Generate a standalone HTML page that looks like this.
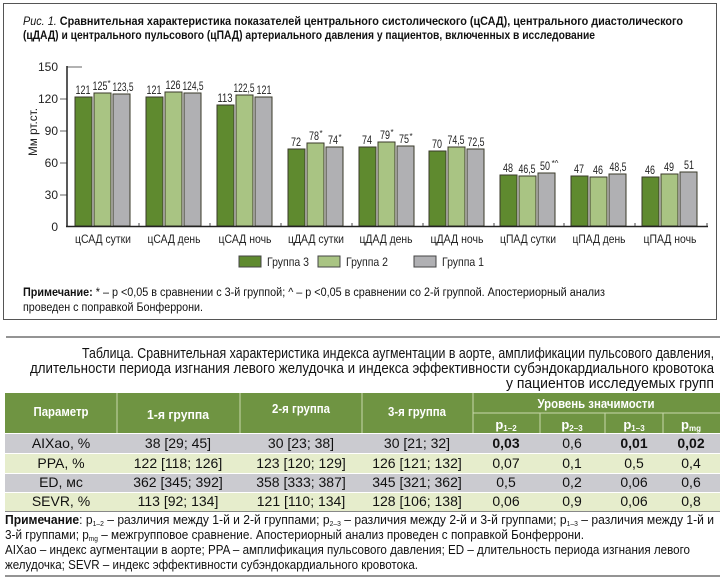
<!DOCTYPE html>
<html><head><meta charset="utf-8"><style>
html,body{margin:0;padding:0;background:#fff;}
svg{display:block;font-family:"Liberation Sans Narrow","Liberation Sans",sans-serif;}
</style></head><body>
<svg width="720" height="577" viewBox="0 0 720 577" xmlns="http://www.w3.org/2000/svg">
<rect x="3.5" y="3.5" width="713" height="316" fill="#fff" stroke="#555" stroke-width="1"/>
<text x="23" y="25" font-size="12" fill="#111" textLength="660" lengthAdjust="spacingAndGlyphs"><tspan font-style="italic">Рис. 1.</tspan><tspan font-weight="bold"> Сравнительная характеристика показателей центрального систолического (цСАД), центрального диастолического</tspan></text>
<text x="23" y="39" font-size="12" fill="#111" font-weight="bold" textLength="572" lengthAdjust="spacingAndGlyphs">(цДАД) и центрального пульсового (цПАД) артериального давления у пациентов, включенных в исследование</text>

<g font-size="12" fill="#222" text-anchor="end">
<text x="58" y="71">150</text><text x="58" y="103">120</text><text x="58" y="135">90</text><text x="58" y="167">60</text><text x="58" y="199">30</text><text x="58" y="231">0</text>
</g>
<g stroke="#666" stroke-width="1">
<line x1="60" y1="99" x2="67" y2="99"/><line x1="60" y1="131" x2="67" y2="131"/><line x1="60" y1="163" x2="67" y2="163"/><line x1="60" y1="195" x2="67" y2="195"/><line x1="67" y1="67" x2="82" y2="67"/>
</g>
<text transform="translate(37,132) rotate(-90)" font-size="12" fill="#222" text-anchor="middle" textLength="48" lengthAdjust="spacingAndGlyphs">Мм рт.ст.</text>

<g stroke="#3a3a2a" stroke-width="1">
<rect x="75" y="97" width="17" height="129" fill="#5f8a2f"/><rect x="94" y="93" width="17" height="133" fill="#a9c483"/><rect x="113" y="94" width="17" height="132" fill="#b0b0b3"/>
<rect x="146" y="97" width="17" height="129" fill="#5f8a2f"/><rect x="165" y="92" width="17" height="134" fill="#a9c483"/><rect x="184" y="93" width="17" height="133" fill="#b0b0b3"/>
<rect x="217" y="105" width="17" height="121" fill="#5f8a2f"/><rect x="236" y="95" width="17" height="131" fill="#a9c483"/><rect x="255" y="97" width="17" height="129" fill="#b0b0b3"/>
<rect x="288" y="149" width="17" height="77" fill="#5f8a2f"/><rect x="307" y="143" width="17" height="83" fill="#a9c483"/><rect x="326" y="147" width="17" height="79" fill="#b0b0b3"/>
<rect x="359" y="147" width="17" height="79" fill="#5f8a2f"/><rect x="378" y="142" width="17" height="84" fill="#a9c483"/><rect x="397" y="146" width="17" height="80" fill="#b0b0b3"/>
<rect x="429" y="151" width="17" height="75" fill="#5f8a2f"/><rect x="448" y="147" width="17" height="79" fill="#a9c483"/><rect x="467" y="149" width="17" height="77" fill="#b0b0b3"/>
<rect x="500" y="175" width="17" height="51" fill="#5f8a2f"/><rect x="519" y="176" width="17" height="50" fill="#a9c483"/><rect x="538" y="173" width="17" height="53" fill="#b0b0b3"/>
<rect x="571" y="176" width="17" height="50" fill="#5f8a2f"/><rect x="590" y="177" width="17" height="49" fill="#a9c483"/><rect x="609" y="174" width="17" height="52" fill="#b0b0b3"/>
<rect x="642" y="177" width="17" height="49" fill="#5f8a2f"/><rect x="661" y="174" width="17" height="52" fill="#a9c483"/><rect x="680" y="172" width="17" height="54" fill="#b0b0b3"/>
</g>
<line x1="67" y1="66" x2="67" y2="227" stroke="#222" stroke-width="1.5"/>
<line x1="66" y1="226.5" x2="708" y2="226.5" stroke="#222" stroke-width="1.5"/>
<g stroke="#444" stroke-width="1">
<line x1="139" y1="223" x2="139" y2="226"/><line x1="210" y1="223" x2="210" y2="226"/><line x1="281" y1="223" x2="281" y2="226"/><line x1="352" y1="223" x2="352" y2="226"/><line x1="423" y1="223" x2="423" y2="226"/><line x1="494" y1="223" x2="494" y2="226"/><line x1="564" y1="223" x2="564" y2="226"/><line x1="635" y1="223" x2="635" y2="226"/><line x1="707" y1="223" x2="707" y2="226"/>
</g>

<g font-size="12" fill="#222" text-anchor="middle" lengthAdjust="spacingAndGlyphs">
<text x="103" y="243" textLength="56" lengthAdjust="spacingAndGlyphs">цСАД сутки</text><text x="174" y="243" textLength="53" lengthAdjust="spacingAndGlyphs">цСАД день</text><text x="245" y="243" textLength="53" lengthAdjust="spacingAndGlyphs">цСАД ночь</text><text x="316" y="243" textLength="56" lengthAdjust="spacingAndGlyphs">цДАД сутки</text><text x="386" y="243" textLength="53" lengthAdjust="spacingAndGlyphs">цДАД день</text><text x="457" y="243" textLength="53" lengthAdjust="spacingAndGlyphs">цДАД ночь</text><text x="528" y="243" textLength="56" lengthAdjust="spacingAndGlyphs">цПАД сутки</text><text x="599" y="243" textLength="53" lengthAdjust="spacingAndGlyphs">цПАД день</text><text x="670" y="243" textLength="53" lengthAdjust="spacingAndGlyphs">цПАД ночь</text>
</g>
<g stroke-width="1" stroke="#444">
<rect x="239" y="256" width="22" height="11" fill="#5f8a2f"/>
<rect x="318" y="256" width="22" height="11" fill="#a9c483"/>
<rect x="414" y="256" width="22" height="11" fill="#b0b0b3"/>
</g>
<g font-size="12" fill="#222"><text x="267" y="266" textLength="42" lengthAdjust="spacingAndGlyphs">Группа 3</text><text x="346" y="266" textLength="42" lengthAdjust="spacingAndGlyphs">Группа 2</text><text x="442" y="266" textLength="42" lengthAdjust="spacingAndGlyphs">Группа 1</text></g>

<text x="23" y="296" font-size="11.5" fill="#111" textLength="582" lengthAdjust="spacingAndGlyphs"><tspan font-weight="bold">Примечание:</tspan> * – p &lt;0,05 в сравнении с 3-й группой; ^ – p &lt;0,05 в сравнении со 2-й группой. Апостериорный анализ</text>
<text x="23" y="311" font-size="11.5" fill="#111" textLength="180" lengthAdjust="spacingAndGlyphs">проведен с поправкой Бонферрони.</text>

<line x1="6" y1="337" x2="720" y2="337" stroke="#555" stroke-width="1.2"/>
<g font-size="15" fill="#111" text-anchor="end">
<text x="714" y="358" textLength="632" lengthAdjust="spacingAndGlyphs">Таблица. Сравнительная характеристика индекса аугментации в аорте, амплификации пульсового давления,</text>
<text x="714" y="373" textLength="684" lengthAdjust="spacingAndGlyphs">длительности периода изгнания левого желудочка и индекса эффективности субэндокардиального кровотока</text>
<text x="714" y="388" textLength="208" lengthAdjust="spacingAndGlyphs">у пациентов исследуемых групп</text>
</g>

<rect x="5" y="393" width="715" height="40" fill="#6f9442"/>
<g stroke="#c9d8ac" stroke-width="1">
<line x1="117" y1="393" x2="117" y2="433"/><line x1="240" y1="393" x2="240" y2="433"/><line x1="362" y1="393" x2="362" y2="433"/><line x1="473" y1="393" x2="473" y2="433"/>
<line x1="473" y1="413" x2="720" y2="413"/>
<line x1="540" y1="413" x2="540" y2="433"/><line x1="605" y1="413" x2="605" y2="433"/><line x1="663" y1="413" x2="663" y2="433"/>
</g>
<g font-size="13" fill="#fff" font-weight="bold" text-anchor="middle">
<text x="61" y="416" textLength="55" lengthAdjust="spacingAndGlyphs">Параметр</text><text x="178" y="419" textLength="62" lengthAdjust="spacingAndGlyphs">1-я  группа</text><text x="301" y="413" textLength="58" lengthAdjust="spacingAndGlyphs">2-я группа</text><text x="417" y="416" textLength="58" lengthAdjust="spacingAndGlyphs">3-я группа</text>
<text x="596" y="408" textLength="117" lengthAdjust="spacingAndGlyphs">Уровень значимости</text>
<text x="506" y="429">p<tspan font-size="8" dy="2">1–2</tspan></text>
<text x="572" y="429">p<tspan font-size="8" dy="2">2–3</tspan></text>
<text x="634" y="429">p<tspan font-size="8" dy="2">1–3</tspan></text>
<text x="691" y="429">p<tspan font-size="8" dy="2">mg</tspan></text>
</g>
<rect x="5" y="434" width="715" height="19" fill="#cbcbd0"/>
<rect x="5" y="454" width="715" height="19" fill="#e6edcc"/>
<rect x="5" y="474" width="715" height="18" fill="#cbcbd0"/>
<rect x="5" y="493" width="715" height="18" fill="#e6edcc"/>
<line x1="5" y1="511.5" x2="720" y2="511.5" stroke="#888" stroke-width="1"/>
<g font-size="14" fill="#111" text-anchor="middle">
<text x="61" y="448">AIXao, %</text><text x="178" y="448">38 [29; 45]</text><text x="301" y="448">30 [23; 38]</text><text x="417" y="448">30 [21; 32]</text>
<text x="506" y="448" font-weight="bold">0,03</text><text x="572" y="448">0,6</text><text x="634" y="448" font-weight="bold">0,01</text><text x="691" y="448" font-weight="bold">0,02</text>
<text x="61" y="468">PPA, %</text><text x="178" y="468">122 [118; 126]</text><text x="301" y="468">123 [120; 129]</text><text x="417" y="468">126 [121; 132]</text>
<text x="506" y="468">0,07</text><text x="572" y="468">0,1</text><text x="634" y="468">0,5</text><text x="691" y="468">0,4</text>
<text x="61" y="487">ED, мс</text><text x="178" y="487">362 [345; 392]</text><text x="301" y="487">358 [333; 387]</text><text x="417" y="487">345 [321; 362]</text>
<text x="506" y="487">0,5</text><text x="572" y="487">0,2</text><text x="634" y="487">0,06</text><text x="691" y="487">0,6</text>
<text x="61" y="506">SEVR, %</text><text x="178" y="506">113 [92; 134]</text><text x="301" y="506">121 [110; 134]</text><text x="417" y="506">128 [106; 138]</text>
<text x="506" y="506">0,06</text><text x="572" y="506">0,9</text><text x="634" y="506">0,06</text><text x="691" y="506">0,8</text>
</g>
<g font-size="12.5" fill="#111">
<text x="5" y="524" textLength="709" lengthAdjust="spacingAndGlyphs"><tspan font-weight="bold">Примечание</tspan>: p<tspan font-size="7" dy="2">1–2</tspan><tspan dy="-2"> – различия между 1-й и 2-й группами; p</tspan><tspan font-size="7" dy="2">2–3</tspan><tspan dy="-2"> – различия между 2-й и 3-й группами; p</tspan><tspan font-size="7" dy="2">1–3</tspan><tspan dy="-2"> – различия между 1-й и</tspan></text>
<text x="5" y="539" textLength="579" lengthAdjust="spacingAndGlyphs">3-й группами; p<tspan font-size="7" dy="2">mg</tspan><tspan dy="-2"> – межгрупповое сравнение. Апостериорный анализ проведен с поправкой Бонферрони.</tspan></text>
<text x="5" y="554" textLength="685" lengthAdjust="spacingAndGlyphs">AIXao – индекс аугментации в аорте; PPA – амплификация пульсового давления; ED – длительность периода изгнания левого</text>
<text x="5" y="569" textLength="413" lengthAdjust="spacingAndGlyphs">желудочка; SEVR – индекс эффективности субэндокардиального кровотока.</text>
</g>
<line x1="5" y1="576" x2="720" y2="576" stroke="#555" stroke-width="1.2"/>

<g font-size="12" fill="#222" text-anchor="middle">
<text x="83" y="94" textLength="15" lengthAdjust="spacingAndGlyphs">121</text><text x="100" y="90" textLength="15" lengthAdjust="spacingAndGlyphs">125</text><text x="109" y="86" font-size="8">*</text><text x="123" y="91" textLength="21" lengthAdjust="spacingAndGlyphs">123,5</text>
<text x="154" y="94" textLength="15" lengthAdjust="spacingAndGlyphs">121</text><text x="173" y="89" textLength="15" lengthAdjust="spacingAndGlyphs">126</text><text x="193" y="90" textLength="21" lengthAdjust="spacingAndGlyphs">124,5</text>
<text x="225" y="102" textLength="15" lengthAdjust="spacingAndGlyphs">113</text><text x="244" y="92" textLength="21" lengthAdjust="spacingAndGlyphs">122,5</text><text x="264" y="94" textLength="15" lengthAdjust="spacingAndGlyphs">121</text>
<text x="296" y="146" textLength="10" lengthAdjust="spacingAndGlyphs">72</text><text x="314" y="140" textLength="10" lengthAdjust="spacingAndGlyphs">78</text><text x="321" y="136" font-size="8">*</text><text x="333" y="144" textLength="10" lengthAdjust="spacingAndGlyphs">74</text><text x="340" y="140" font-size="8">*</text>
<text x="367" y="144" textLength="10" lengthAdjust="spacingAndGlyphs">74</text><text x="385" y="139" textLength="10" lengthAdjust="spacingAndGlyphs">79</text><text x="392" y="135" font-size="8">*</text><text x="404" y="143" textLength="10" lengthAdjust="spacingAndGlyphs">75</text><text x="411" y="139" font-size="8">*</text>
<text x="437" y="148" textLength="10" lengthAdjust="spacingAndGlyphs">70</text><text x="456" y="144" textLength="17" lengthAdjust="spacingAndGlyphs">74,5</text><text x="476" y="146" textLength="17" lengthAdjust="spacingAndGlyphs">72,5</text>
<text x="508" y="172" textLength="10" lengthAdjust="spacingAndGlyphs">48</text><text x="527" y="173" textLength="17" lengthAdjust="spacingAndGlyphs">46,5</text><text x="545" y="170" textLength="10" lengthAdjust="spacingAndGlyphs">50</text><text x="555" y="166" font-size="8">*^</text>
<text x="579" y="173" textLength="10" lengthAdjust="spacingAndGlyphs">47</text><text x="598" y="174" textLength="10" lengthAdjust="spacingAndGlyphs">46</text><text x="618" y="171" textLength="17" lengthAdjust="spacingAndGlyphs">48,5</text>
<text x="650" y="174" textLength="10" lengthAdjust="spacingAndGlyphs">46</text><text x="669" y="171" textLength="10" lengthAdjust="spacingAndGlyphs">49</text><text x="689" y="169" textLength="10" lengthAdjust="spacingAndGlyphs">51</text>
</g>
</svg>
</body></html>
